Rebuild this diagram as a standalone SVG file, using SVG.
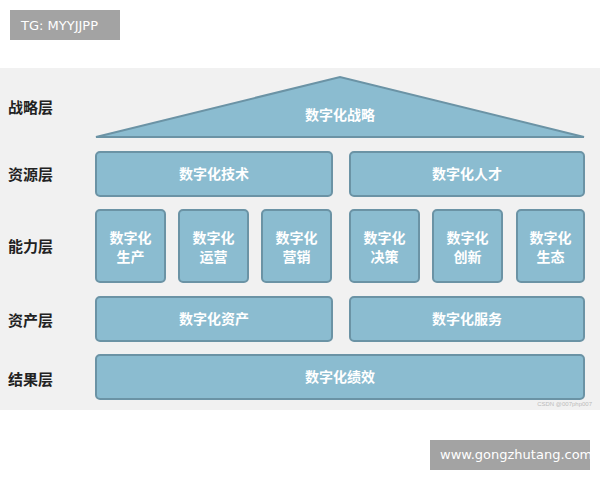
<svg xmlns="http://www.w3.org/2000/svg" width="600" height="480" viewBox="0 0 600 480">
<style>
.b{fill:#8bbcd0;stroke:#6b93a5;stroke-width:2}
.t{font-family:"Noto Sans CJK SC",sans-serif;font-size:14px;font-weight:bold;fill:#fff;text-anchor:middle}
.l{font-family:"Noto Sans CJK SC",sans-serif;font-size:15px;font-weight:bold;fill:#222}
.w{font-family:"DejaVu Sans",sans-serif;font-size:13px;fill:#fff}
</style>
<rect width="600" height="480" fill="#fff"/>
<rect x="0" y="68" width="600" height="342" fill="#f1f1f1"/>
<rect x="10" y="10" width="110" height="30" fill="#a3a3a3"/>
<text class="w" x="21" y="30">TG: MYYJJPP</text>
<rect x="430" y="440" width="160" height="30" fill="#a3a3a3"/>
<text class="w" x="440" y="459">www.gongzhutang.com</text>
<g id="labels">
<text class="l" x="8" y="113">战略层</text>
<text class="l" x="8" y="180">资源层</text>
<text class="l" x="8" y="252">能力层</text>
<text class="l" x="8" y="326">资产层</text>
<text class="l" x="8" y="385">结果层</text>
</g>
<g id="strategy"><polygon class="b" points="96,137 340,77 584,137"/><text class="t" x="340" y="120">数字化战略</text></g>
<g id="tech"><rect class="b" x="96" y="152" width="236" height="44" rx="4"/><text class="t" x="214" y="179">数字化技术</text></g>
<g id="talent"><rect class="b" x="350" y="152" width="234" height="44" rx="4"/><text class="t" x="467" y="179">数字化人才</text></g>
<g id="c1"><rect class="b" x="96" y="210" width="69" height="72" rx="4"/><text class="t" x="130.5" y="243">数字化</text><text class="t" x="130.5" y="262">生产</text></g>
<g id="c2"><rect class="b" x="179" y="210" width="69" height="72" rx="4"/><text class="t" x="213.5" y="243">数字化</text><text class="t" x="213.5" y="262">运营</text></g>
<g id="c3"><rect class="b" x="262" y="210" width="69" height="72" rx="4"/><text class="t" x="296.5" y="243">数字化</text><text class="t" x="296.5" y="262">营销</text></g>
<g id="c4"><rect class="b" x="350" y="210" width="69" height="72" rx="4"/><text class="t" x="384.5" y="243">数字化</text><text class="t" x="384.5" y="262">决策</text></g>
<g id="c5"><rect class="b" x="433" y="210" width="69" height="72" rx="4"/><text class="t" x="467.5" y="243">数字化</text><text class="t" x="467.5" y="262">创新</text></g>
<g id="c6"><rect class="b" x="517" y="210" width="67" height="72" rx="4"/><text class="t" x="550.5" y="243">数字化</text><text class="t" x="550.5" y="262">生态</text></g>
<g id="assets"><rect class="b" x="96" y="297" width="236" height="44" rx="4"/><text class="t" x="214" y="324">数字化资产</text></g>
<g id="service"><rect class="b" x="350" y="297" width="234" height="44" rx="4"/><text class="t" x="467" y="324">数字化服务</text></g>
<g id="result"><rect class="b" x="96" y="355" width="488" height="44" rx="4"/><text class="t" x="340" y="382">数字化绩效</text></g>
<g id="connectors"/>
<text x="592" y="406" font-family="Liberation Sans,sans-serif" font-size="6" fill="#bbb" text-anchor="end">CSDN @007php007</text>
</svg>
